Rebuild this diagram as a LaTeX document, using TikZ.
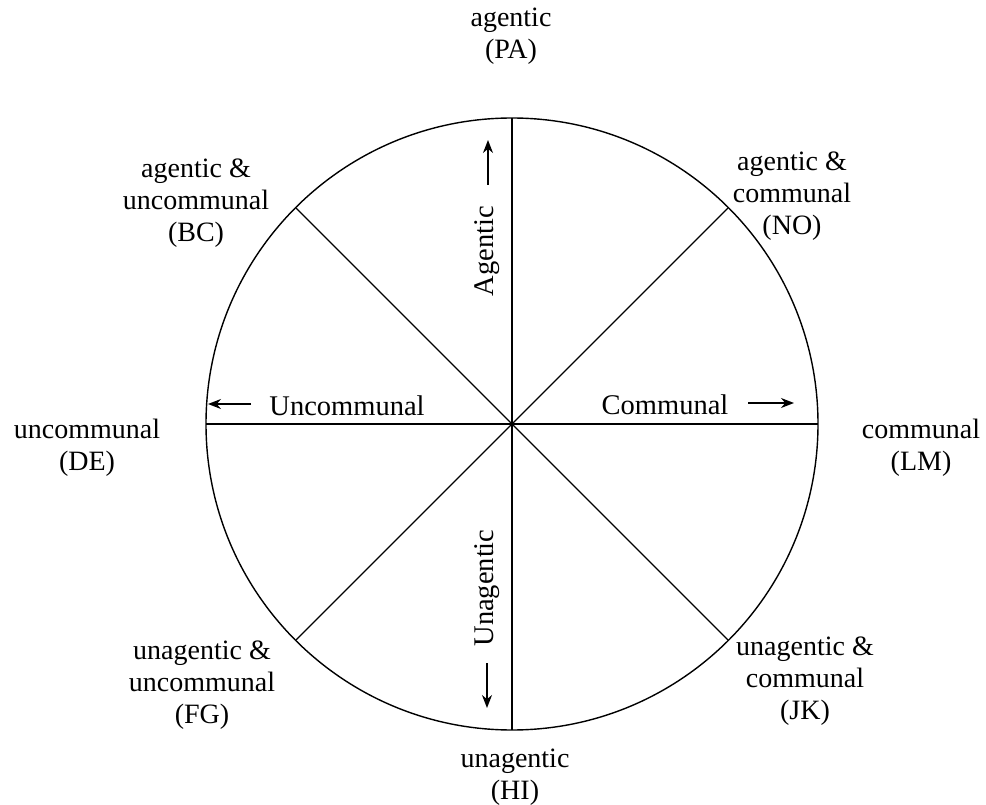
\documentclass[tikz,border=0pt]{standalone}
\usepackage{fontspec}
\setmainfont{Liberation Serif}
\usetikzlibrary{arrows.meta,calc}
\begin{document}
\begin{tikzpicture}[x=1pt,y=-1pt,
  lbl/.style={align=center,inner sep=0pt,font=\fontsize{28}{32}\selectfont},
  axlbl/.style={inner sep=0pt,font=\fontsize{28.5}{32}\selectfont},
  ln/.style={line width=1.4pt},
  arr/.style={line width=1.4pt,-{Stealth[length=13pt,width=10pt]}}]
\useasboundingbox (0,0) rectangle (986,805);
\coordinate (O) at (512,424);
\draw[ln] (O) circle[radius=306];
\coordinate (N) at (512,118);
\coordinate (S) at (512,730);
\coordinate (W) at (206,424);
\coordinate (E) at (818,424);
\coordinate (NE) at ($(O)+(216.4,-216.4)$);
\coordinate (NW) at ($(O)+(-216.4,-216.4)$);
\coordinate (SE) at ($(O)+(216.4,216.4)$);
\coordinate (SW) at ($(O)+(-216.4,216.4)$);
\draw[ln] (N) -- (S);
\draw[ln] (W) -- (E);
\draw[ln] (NW) -- (SE);
\draw[ln] (NE) -- (SW);
% axis labels
\node[axlbl,rotate=90] (ag) at (487,251) {Agentic};
\node[axlbl,rotate=90] (uag) at (487,588) {Unagentic};
\node[axlbl] (uc) at (347,406) {Uncommunal};
\node[axlbl] (co) at (665,405) {Communal};
\coordinate (a1) at (488,185); \coordinate (a2) at (488,140);
\coordinate (b1) at (487,663); \coordinate (b2) at (487,708);
\coordinate (c1) at (251,404); \coordinate (c2) at (208,404);
\coordinate (d1) at (748,403); \coordinate (d2) at (794,403);
\draw[arr] (a1) -- (a2);
\draw[arr] (b1) -- (b2);
\draw[arr] (c1) -- (c2);
\draw[arr] (d1) -- (d2);
% outer labels
\node[lbl] (PA) at (511,36) {agentic\\(PA)};
\node[lbl] (NO) at (792,196) {agentic \&\\communal\\(NO)};
\node[lbl] (LM) at (921,448) {communal\\(LM)};
\node[lbl] (JK) at (805,681) {unagentic \&\\communal\\(JK)};
\node[lbl] (HI) at (515,777) {unagentic\\(HI)};
\node[lbl] (FG) at (202,685) {unagentic \&\\uncommunal\\(FG)};
\node[lbl] (DE) at (87,448) {uncommunal\\(DE)};
\node[lbl] (BC) at (196,203) {agentic \&\\uncommunal\\(BC)};
\end{tikzpicture}
\end{document}
